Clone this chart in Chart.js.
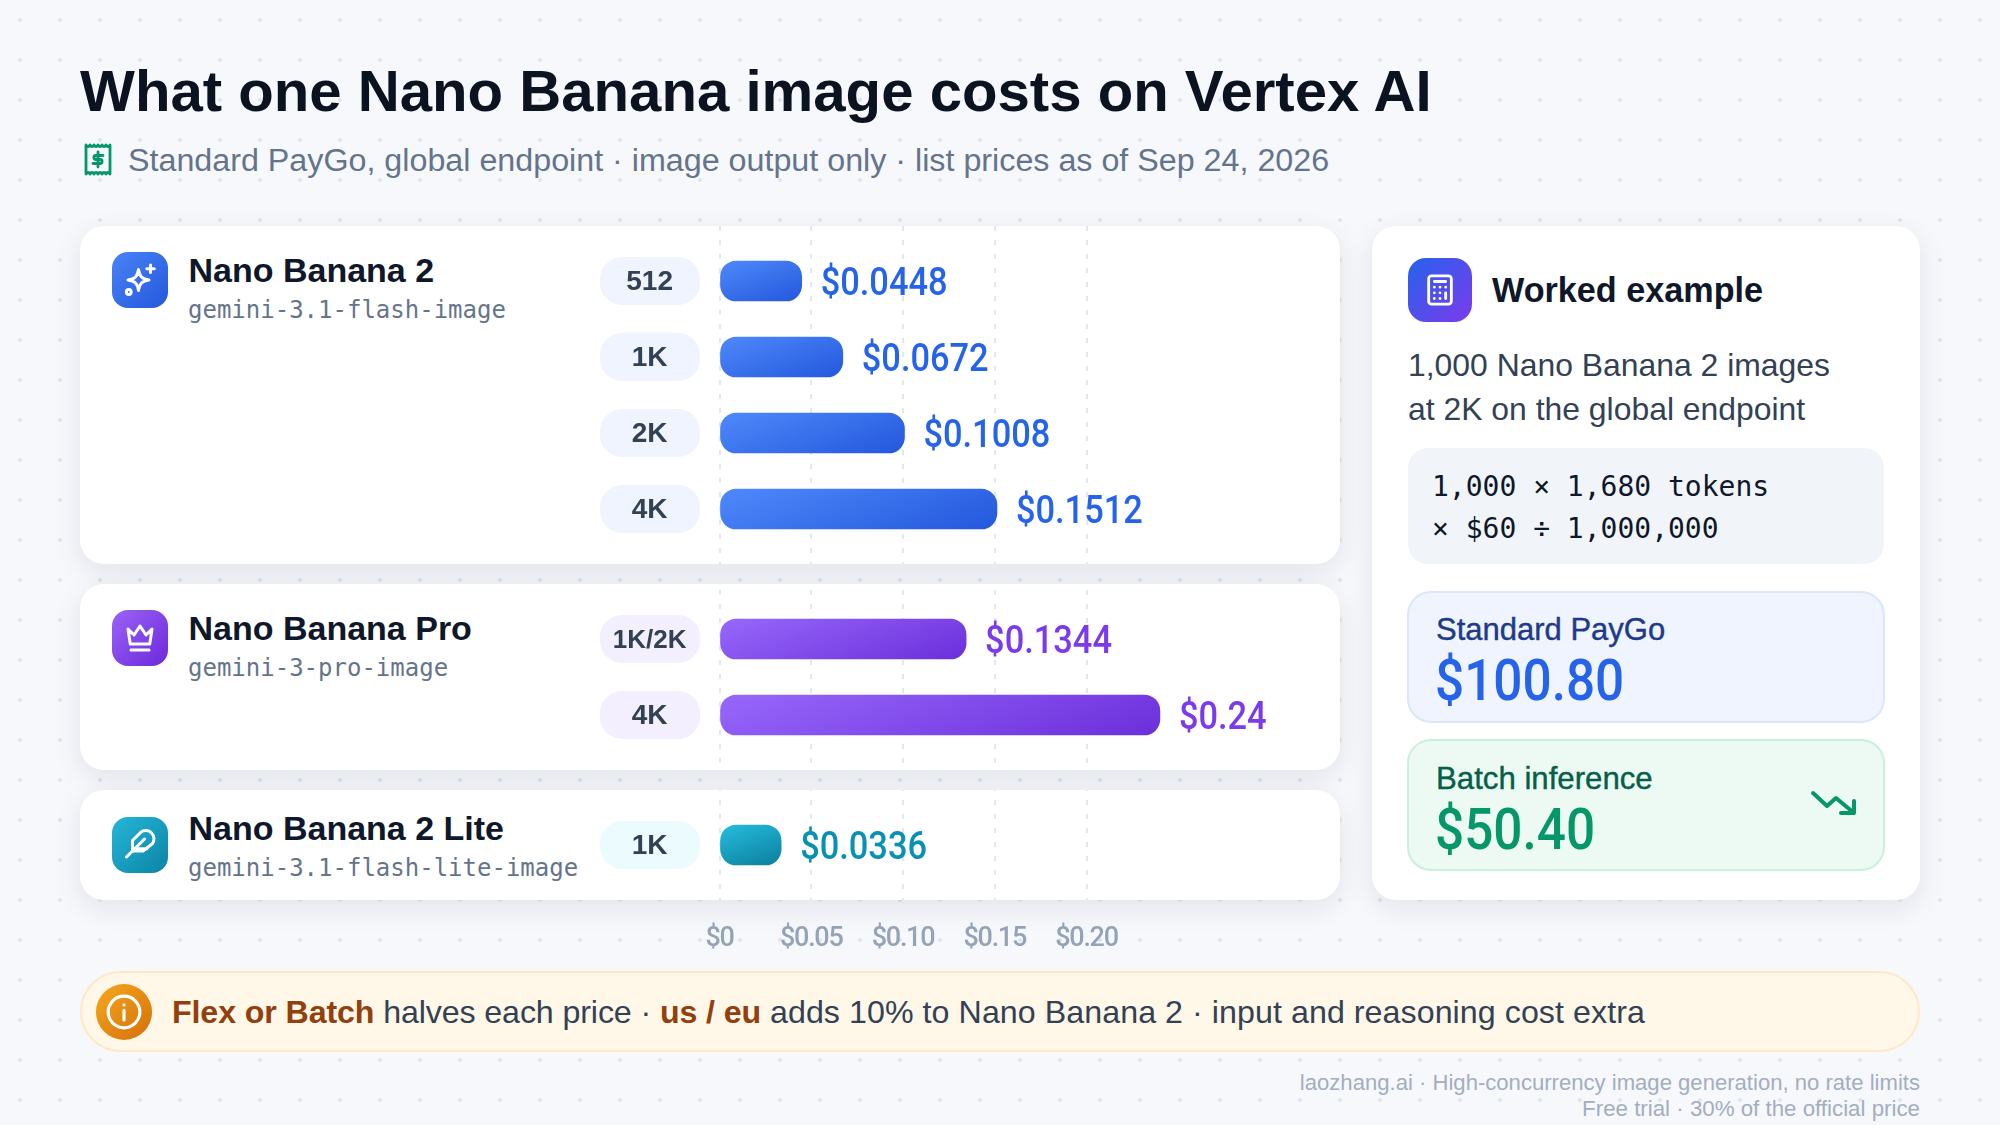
<!doctype html>
<html><head><meta charset="utf-8">
<script src="https://cdn.jsdelivr.net/npm/chart.js@4/dist/chart.umd.min.js"></script>
<style>
*{box-sizing:border-box;margin:0;padding:0}
html,body{width:2000px;height:1125px;overflow:hidden}
body{position:relative;font-family:"Liberation Sans",sans-serif;background-color:#f6f8fc;background-image:radial-gradient(circle at 20px 20px,#dfe5ee 1.6px,transparent 2.2px);background-size:40px 40px}
.a{position:absolute}
.t{position:absolute;white-space:nowrap;line-height:1}
.card{position:absolute;background:#fff;border-radius:24px;box-shadow:0 8px 28px rgba(15,23,42,.09)}
.ic{position:absolute;display:flex;align-items:center;justify-content:center;border-radius:16px}
.mono{font-family:"DejaVu Sans Mono",monospace}
.nar{font-family:Roboto,sans-serif;font-weight:500;transform:scaleX(.9);transform-origin:left center}
canvas{position:absolute;left:0;top:0}
svg{display:block;fill:none;stroke-linecap:round;stroke-linejoin:round}
</style></head><body>
<div class="t" id="title" style="left:80px;top:62px;font-size:58.150px;font-weight:700;color:#0b1220">What one Nano Banana image costs on Vertex AI</div>
<svg class="a" style="left:84px;top:143px" width="28" height="33" viewBox="0 0 28 33" stroke="#059669" stroke-width="2.800"><path d="M2 2c1.500 2 3 2 4 0 1.200 2 2.800 2 4 0 1.200 2 2.800 2 4 0 1.200 2 2.800 2 4 0 1.200 2 2.800 2 4 0 1 2 2.500 2 4 0v29c-1.500-2-3-2-4 0-1.200-2-2.800-2-4 0-1.200-2-2.800-2-4 0-1.200-2-2.800-2-4 0-1.200-2-2.800-2-4 0-1-2-2.500-2-4 0z"/><path d="M19 12.500h-7c-2.800 0-2.800 4 0 4h4c2.800 0 2.800 4 0 4H9M14 9v15"/></svg>
<div class="t" id="sub" style="left:128px;top:144px;font-size:32.250px;color:#64748b">Standard PayGo, global endpoint · image output only · list prices as of Sep 24, 2026</div>

<div class="card" style="left:80px;top:226px;width:1260px;height:338px"></div>
<div class="card" style="left:80px;top:584px;width:1260px;height:186px"></div>
<div class="card" style="left:80px;top:790px;width:1260px;height:110px"></div>
<div class="card" style="left:1372px;top:226px;width:548px;height:674px"></div>

<div class="ic" style="left:112px;top:252px;width:56px;height:56px;background:linear-gradient(135deg,#4a83f7,#2358dc)"><svg width="36" height="36" viewBox="0 0 24 24" stroke="#fff" stroke-width="2"><path d="M12 4c.7 4.700 2.300 6.300 7 7-4.700.7-6.300 2.300-7 7-.7-4.700-2.300-6.300-7-7 4.700-.7 6.300-2.300 7-7z" transform="translate(-1 1)"/><path d="M19 2v5M16.500 4.500h5"/><circle cx="4.500" cy="20" r="1.600"/></svg></div>
<div class="t" style="left:188.500px;top:253px;font-size:34px;font-weight:700;color:#0f172a">Nano Banana 2</div>
<div class="t mono" style="left:188px;top:298px;font-size:24px;color:#64748b">gemini-3.1-flash-image</div>

<div class="ic" style="left:112px;top:610px;width:56px;height:56px;background:linear-gradient(135deg,#9a63f8,#6d28d9)"><svg width="36" height="36" viewBox="0 0 24 24" stroke="#fff" stroke-width="2"><path d="M4 6l4 4 4-6 4 6 4-4-1.500 10h-13z"/><path d="M6 20h12"/></svg></div>
<div class="t" style="left:188.500px;top:611px;font-size:34px;font-weight:700;color:#0f172a">Nano Banana Pro</div>
<div class="t mono" style="left:188px;top:656px;font-size:24px;color:#64748b">gemini-3-pro-image</div>

<div class="ic" style="left:112px;top:817px;width:56px;height:56px;background:linear-gradient(135deg,#26b6d8,#0b84a5)"><svg width="36" height="36" viewBox="0 0 24 24" stroke="#fff" stroke-width="2"><path d="M20.200 11.200a5.500 5.500 0 0 0-7.700-7.700L7 9v7h7z"/><path d="M15 8L3 20M16.500 14.500H9.500"/></svg></div>
<div class="t" style="left:188.500px;top:811px;font-size:34px;font-weight:700;color:#0f172a">Nano Banana 2 Lite</div>
<div class="t mono" style="left:188px;top:856px;font-size:24px;color:#64748b">gemini-3.1-flash-lite-image</div>

<div class="ic" style="left:1408px;top:258px;width:64px;height:64px;border-radius:18px;background:linear-gradient(135deg,#2563eb,#7c3aed)"><svg width="34" height="34" viewBox="0 0 24 24" stroke="#fff" stroke-width="2"><rect x="4" y="2" width="16" height="20" rx="2"/><path d="M8 6h8M8 10h.01M12 10h.01M16 10h.01M8 14h.01M12 14h.01M16 14v4M8 18h.01M12 18h.01"/></svg></div>
<div class="t" id="we" style="left:1492px;top:273px;font-size:34.200px;font-weight:700;color:#0f172a">Worked example</div>
<div class="t" id="p1" style="left:1408px;top:350px;font-size:31.900px;color:#334155">1,000 Nano Banana 2 images</div>
<div class="t" style="left:1408px;top:394px;font-size:31.900px;color:#334155">at 2K on the global endpoint</div>
<div class="a" style="left:1408px;top:448px;width:476px;height:116px;border-radius:20px;background:#f1f5f9"></div>
<div class="t mono" style="left:1432px;top:473px;font-size:28px;color:#0f172a">1,000 × 1,680 tokens</div>
<div class="t mono" style="left:1432px;top:515px;font-size:28px;color:#0f172a">× $60 ÷ 1,000,000</div>

<div class="a" style="left:1407px;top:591px;width:478px;height:132px;border-radius:24px;background:#eff4ff;border:2px solid #dbe6fb"></div>
<div class="t" id="std" style="left:1436px;top:614px;font-size:31px;color:#1e3a8a;-webkit-text-stroke:.4px #1e3a8a">Standard PayGo</div>
<div class="t nar" id="v1" style="left:1435px;top:652px;font-size:57px;color:#2563eb">$100.80</div>
<div class="a" style="left:1407px;top:739px;width:478px;height:132px;border-radius:24px;background:#ecfaf3;border:2px solid #c9f0dc"></div>
<div class="t" style="left:1436px;top:763px;font-size:31.200px;color:#065f46;-webkit-text-stroke:.4px #065f46">Batch inference</div>
<div class="t nar" style="left:1435px;top:801px;font-size:57px;color:#059669">$50.40</div>
<svg class="a" style="left:1810px;top:788px" width="48" height="30" viewBox="0 0 48 30" stroke="#059669" stroke-width="4"><path d="M3 5l14 13 9-8 18 15M44 13v12H31"/></svg>

<div class="a" style="left:80px;top:971px;width:1840px;height:81px;border-radius:41px;background:#fff7e8;border:2px solid #fde9c8"></div>
<div class="ic" style="left:96px;top:984px;width:56px;height:56px;border-radius:50%;background:linear-gradient(135deg,#f6a91f,#d46f08)"><svg width="38" height="38" viewBox="0 0 24 24" stroke="#fff" stroke-width="2"><circle cx="12" cy="12" r="10"/><path d="M12 11v6M12 7.500h.01"/></svg></div>
<div class="t" id="note" style="left:172px;top:996px;font-size:32.200px;color:#334155"><span style="letter-spacing:-.12px"><b style="color:#92400e">Flex or Batch</b> halves each price · <b style="color:#92400e">us / eu</b></span> <span style="letter-spacing:.06px">adds 10% to Nano Banana 2 · input and reasoning cost extra</span></div>
<div class="t" style="right:80px;top:1072px;font-size:22.100px;color:#a3aebf">laozhang.ai · High-concurrency image generation, no rate limits</div>
<div class="t" style="right:80px;top:1098px;font-size:22.300px;color:#a3aebf">Free trial · 30% of the official price</div>

<canvas id="c" width="2000" height="1125"></canvas>
<script>
const families = ['Nano Banana 2','Nano Banana 2','Nano Banana 2','Nano Banana 2','Nano Banana Pro','Nano Banana Pro','Nano Banana 2 Lite'];
const sizes = ['512','1K','2K','4K','1K/2K','4K','1K'];
const prices = [0.0448,0.0672,0.1008,0.1512,0.1344,0.24,0.0336];
const priceLabels = ['$0.0448','$0.0672','$0.1008','$0.1512','$0.1344','$0.24','$0.0336'];
const xTicks = [0,0.05,0.10,0.15,0.20];
const xTickLabels = ['$0','$0.05','$0.10','$0.15','$0.20'];

const groupOrder = [...new Set(families)];
const slot = families.map((f,i)=> i + groupOrder.indexOf(f)*0.71);
const gradStops = {'Nano Banana 2':['#4f89fb','#2358dc'],'Nano Banana Pro':['#9768fb','#6c2fdb'],'Nano Banana 2 Lite':['#26bddd','#0b7f9e']};
const textCol = {'Nano Banana 2':'#2563eb','Nano Banana Pro':'#7c3aed','Nano Banana 2 Lite':'#0891b2'};
const pillCol = {'Nano Banana 2':'#eff4fe','Nano Banana Pro':'#f3effe','Nano Banana 2 Lite':'#ecfbfe'};
const panels = [[226,338],[584,186],[790,110]];

const overlay = {
  id:'overlay',
  beforeDraw(ch){
    const c=ch.ctx, y=ch.scales.y;
    slot.forEach((s,i)=>{
      const p=y.getPixelForValue(s);
      c.save();c.fillStyle=pillCol[families[i]];c.beginPath();c.roundRect(600,p-24,100,48,22);c.fill();c.restore();
    });
    // the dashed grid shows only inside the panels
    c.save();c.beginPath();
    panels.forEach(r=>c.rect(80,r[0],1260,r[1]));
    c.clip();
  },
  beforeDatasetsDraw(ch){ ch.ctx.restore(); },
  afterDatasetsDraw(ch){
    const c=ch.ctx,x=ch.scales.x,y=ch.scales.y;
    c.save();c.textAlign='left';c.textBaseline='alphabetic';
    c.font='500 38px Roboto';
    prices.forEach((v,i)=>{
      c.fillStyle=textCol[families[i]];
      c.save();
      c.translate(x.getPixelForValue(v)+19,y.getPixelForValue(slot[i])+14);
      c.scale(.905,1);
      c.fillText(priceLabels[i],0,0);
      c.restore();
    });
    c.restore();
    c.letterSpacing='-1.3px';
  },
  afterDraw(ch){ ch.ctx.letterSpacing='0px'; }
};

new Chart(document.getElementById('c'),{
  type:'bar',
  data:{datasets:[{
    data:prices.map((v,i)=>({x:v,y:slot[i]})),
    barThickness:40,
    borderRadius:16,
    borderSkipped:false,
    backgroundColor(ctx){
      if(ctx.dataIndex===undefined||!ctx.chart.chartArea) return '#2563eb';
      const x=ctx.chart.scales.x,y=ctx.chart.scales.y,i=ctx.dataIndex;
      const p=y.getPixelForValue(slot[i]),x0=x.getPixelForValue(0),x1=x.getPixelForValue(prices[i]);
      const w=x1-x0,cx=(x0+x1)/2,dx=.34,dy=.94,L=(dx*w+dy*40)/2;
      const g=ctx.chart.ctx.createLinearGradient(cx-dx*L,p-dy*L,cx+dx*L,p+dy*L);
      const s=gradStops[families[i]];
      g.addColorStop(0,s[0]);g.addColorStop(1,s[1]);return g;
    }
  }]},
  options:{
    indexAxis:'y',responsive:false,animation:false,devicePixelRatio:1,
    layout:{padding:{left:599.500,top:226,right:730,bottom:175}},
    plugins:{legend:{display:false},tooltip:{enabled:false}},
    scales:{
      x:{type:'linear',min:0,max:0.30,position:'bottom',
        afterBuildTicks(a){a.ticks=xTicks.map(v=>({value:v}));},
        afterFit(a){a.height=50;},
        grid:{color:'#e2e8f0',lineWidth:2,drawTicks:false},
        border:{display:false,dash:[5,9]},
        ticks:{z:1,autoSkip:false,maxRotation:0,padding:23,color:'#94a3b8',font:{family:'Roboto',size:27,weight:'500'},
          callback(v,i){return xTickLabels[i];}}
      },
      y:{type:'linear',reverse:true,offset:false,min:-55/76,max:slot[6]+55/76,position:'left',
        afterBuildTicks(a){a.ticks=slot.map(v=>({value:v}));},
        afterFit(a){a.width=120;},
        grid:{display:false},border:{display:false},
        ticks:{autoSkip:false,crossAlign:'center',padding:25,labelOffset:1.500,color:'#334155',
          font(ctx){return {family:'"Liberation Sans"',weight:'700',size:sizes[ctx.index]&&sizes[ctx.index].length>3?26:28};},
          callback(v,i){return sizes[i];}}
      }
    }
  },
  plugins:[overlay]
});
</script>
</body></html>
